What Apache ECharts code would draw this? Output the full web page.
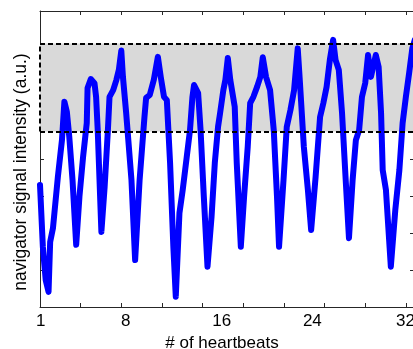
<!DOCTYPE html>
<html>
<head>
<meta charset="utf-8">
<script src="https://cdn.jsdelivr.net/npm/echarts@6/dist/echarts.min.js"></script>
<style>
html,body{margin:0;padding:0;background:#fff;}
#c{width:413px;height:349px;}
</style>
</head>
<body>
<div id="c"></div>
<script>
// sample index along the acquisition (x) and navigator intensity (y, a.u.)
var sampleIdx = [0,7,14,21,25,32,44,54,60,66,72,80,89,97,106,115,117,125,134,138,142,151,159,167,171,180,188,194,200,204,212,225,234,245,257,261,270,280,290,297,305,312,320,328,334,343,351,361,369,375,379,389,395,403,412,422,430,438,443,451,456,462,468,479,484,494,502,511,517,525,534,542,548,556,566,575,583,588,599,607,616,625,634,639,649,659,667,678,689,697,705,713,721,727,735,743,752,760,769,777,785,792,800,807,814,826,833,839,843,851,863,874,884,892,900,908,916,922];
var signal = [3.30,1.63,0.73,0.41,1.76,2.14,3.52,4.51,5.55,5.28,4.60,3.43,1.68,2.98,4.06,4.97,5.92,6.16,6.05,5.68,4.78,2.03,3.25,4.78,5.68,5.86,6.14,6.41,6.93,6.22,5.24,3.43,1.27,3.43,5.14,5.65,5.73,6.14,6.76,6.22,5.68,5.59,3.89,1.63,0.28,2.54,3.16,4.06,4.78,5.68,6.00,5.78,4.78,2.98,1.09,2.44,3.89,4.87,5.24,5.86,6.14,6.73,6.14,5.41,3.89,1.63,2.98,4.33,5.51,5.68,5.95,6.22,6.75,6.22,5.86,4.78,2.98,1.63,3.43,4.87,5.32,5.86,6.99,6.14,4.33,3.16,2.08,3.52,5.14,5.51,5.95,6.68,7.22,6.68,6.41,5.24,3.43,1.86,3.43,4.51,4.78,5.68,6.05,6.81,6.22,6.81,6.49,5.24,3.70,3.16,1.09,2.62,3.70,4.97,5.68,6.32,7.00,7.22];
// acceptance window (gray box)
var windowLow = 4.74;
var windowHigh = 7.12;
// axis ticks and labels
var xTickValues = [0,100,200,300,400,500,600,700,800,900];
var heartbeatLabels = ['1','8','16','24','32'];
var heartbeatPos = [2,211,447,670,899];
var yMin = 0, yMax = 8, yStep = 1;
var xMin = 0, xMax = 920;

var pts = sampleIdx.map(function(x,i){return [x, signal[i]];});
var axisCol = '#262626';
var chart = echarts.init(document.getElementById('c'));
var font = 'Liberation Sans, Arial, Helvetica, sans-serif';
var dashStyle = {color:'#000', width:2, type:[5,3]};
chart.setOption({
  animation:false,
  backgroundColor:'#ffffff',
  grid:{left:40, top:11, width:374, height:296, containLabel:false, outerBoundsMode:'none'},
  xAxis:[{
    type:'value', position:'bottom', min:xMin, max:xMax,
    axisLine:{show:true, lineStyle:{color:axisCol, width:1}},
    axisTick:{show:true, inside:true, length:4, customValues:xTickValues, lineStyle:{color:axisCol}},
    axisLabel:{show:true, customValues:heartbeatPos, margin:6, color:'#000', fontSize:17, fontFamily:font,
      formatter:function(v){var k=heartbeatPos.indexOf(v);return k>=0?heartbeatLabels[k]:'';}},
    splitLine:{show:false},
    name:'# of heartbeats', nameLocation:'middle', nameGap:24,
    nameTextStyle:{color:'#000', fontSize:17, fontFamily:font, padding:[0,10,0,0]}
  },{
    type:'value', position:'top', min:xMin, max:xMax,
    axisLine:{show:true, onZero:false, lineStyle:{color:axisCol, width:1}},
    axisTick:{show:true, inside:true, length:4, customValues:xTickValues, lineStyle:{color:axisCol}},
    axisLabel:{show:false}, splitLine:{show:false}
  }],
  yAxis:[{
    type:'value', position:'left', min:yMin, max:yMax, interval:yStep,
    axisLine:{show:true, lineStyle:{color:axisCol, width:1}},
    axisTick:{show:true, inside:true, length:4, lineStyle:{color:axisCol}},
    axisLabel:{show:false}, splitLine:{show:false},
    name:'navigator signal intensity (a.u.)', nameLocation:'middle', nameGap:10,
    nameTextStyle:{color:'#000', fontSize:17.5, fontFamily:font, padding:[0,26,0,0]}
  },{
    type:'value', position:'right', min:yMin, max:yMax, interval:yStep,
    axisLine:{show:true, onZero:false, lineStyle:{color:axisCol, width:1}},
    axisTick:{show:true, inside:true, length:4, lineStyle:{color:axisCol}},
    axisLabel:{show:false}, splitLine:{show:false}
  }],
  series:[{
    type:'line', data:pts, showSymbol:false, symbol:'none', smooth:false,
    lineStyle:{color:'#0000ff', width:6, cap:'round', join:'round'},
    z:3,
    markArea:{
      silent:true,
      itemStyle:{color:'#d9d9d9', borderWidth:0},
      data:[[{xAxis:xMin, yAxis:windowLow},{xAxis:xMax, yAxis:windowHigh}]]
    },
    markLine:{
      silent:true, symbol:['none','none'], label:{show:false},
      lineStyle:dashStyle,
      data:[
        [{coord:[xMin, windowHigh]},{coord:[xMax, windowHigh]}],
        [{coord:[xMin, windowLow]},{coord:[xMax, windowLow]}],
        [{coord:[xMin, windowLow]},{coord:[xMin, windowHigh]}]
      ]
    }
  }]
});
</script>
</body>
</html>
